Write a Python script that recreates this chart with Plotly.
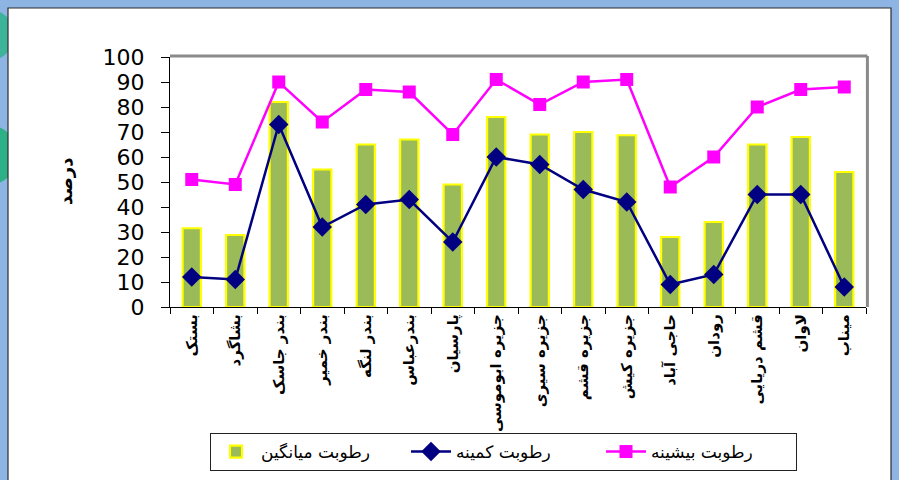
import plotly.graph_objects as go

# ---------------- data ----------------
stations = ["بستک", "بشاگرد", "بندر جاسک", "بندر خمیر", "بندر لنگه", "بندرعباس",
            "پارسیان", "جزیره ابوموسی", "جزیره سیری", "جزیره قشم", "جزیره کیش",
            "حاجی آباد", "رودان", "قشم دریایی", "لاوان", "میناب"]
humidity_mean = [31.5, 28.8, 82, 55, 65, 67, 49, 76, 69, 70, 68.7, 28, 34, 65, 68, 54]
humidity_min = [12, 11, 73, 32, 41, 43, 26, 60, 57, 47, 42, 9, 13, 45, 45, 8]
humidity_max = [51, 49, 90, 74, 87, 86, 69, 91, 81, 90, 91, 48, 60, 80, 87, 88]
y_ticks = [0, 10, 20, 30, 40, 50, 60, 70, 80, 90, 100]

name_mean = "رطوبت میانگین"
name_min = "رطوبت کمینه"
name_max = "رطوبت بیشینه"
y_title = "درصد"

# ---------------- layout helpers ----------------
W, H = 899, 480
ML, MR, MT, MB = 170, 33, 57, 173
PW = W - ML - MR
PH = H - MT - MB


def fx(px):
    return (px - ML) / PW


def fy(py):
    return (H - MB - py) / PH


fig = go.Figure()

fig.add_trace(go.Bar(
    x=stations, y=humidity_mean, name=name_mean,
    marker=dict(color="#9BBB59", line=dict(color="#FFFF00", width=2.2)),
))
fig.add_trace(go.Scatter(
    x=stations, y=humidity_min, name=name_min, mode="lines+markers",
    line=dict(color="#000080", width=2.5),
    marker=dict(symbol="diamond", size=15, color="#000080"),
))
fig.add_trace(go.Scatter(
    x=stations, y=humidity_max, name=name_max, mode="lines+markers",
    line=dict(color="#FF00FF", width=2.5),
    marker=dict(symbol="square", size=13, color="#FF00FF"),
))

shapes = []
teal = "#3DB39A"
# decorative teal blobs on left edge (behind white panel)
for cy, r, col in [(35, 26, teal), (155, 30, "#2DB086"), (300, 10, teal)]:
    shapes.append(dict(type="circle", xref="paper", yref="paper", layer="below",
                       x0=fx(-12 - r), x1=fx(-12 + r), y0=fy(cy + r), y1=fy(cy - r),
                       fillcolor=col, line=dict(width=0)))
# white panel
shapes.append(dict(type="rect", xref="paper", yref="paper", layer="below",
                   x0=fx(8), x1=fx(891), y0=fy(495), y1=fy(8),
                   fillcolor="white", line=dict(color="#2b2b2b", width=1.2)))
# plot-area gray frame on top and right
shapes.append(dict(type="line", xref="paper", yref="paper", layer="above",
                   x0=0, x1=1.002, y0=1.004, y1=1.004, line=dict(color="#8A8A8A", width=3)))
shapes.append(dict(type="line", xref="paper", yref="paper", layer="above",
                   x0=1.002, x1=1.002, y0=0, y1=1.004, line=dict(color="#8A8A8A", width=3)))

fig.update_layout(
    width=W, height=H,
    margin=dict(l=ML, r=MR, t=MT, b=MB, autoexpand=False),
    paper_bgcolor="#8DB4E2",
    plot_bgcolor="#E8D2A0",
    bargap=0.58,
    showlegend=True,
    shapes=shapes,
    legend=dict(
        orientation="h", x=fx(210), xanchor="left", y=fy(433), yanchor="top",
        bgcolor="white", bordercolor="#222222", borderwidth=1,
        font=dict(family="DejaVu Sans", size=17, color="black"),
        entrywidth=140, entrywidthmode="pixels",
        traceorder="normal", itemwidth=40,
    ),
    annotations=[dict(
        text=f"<b>{y_title}</b>", xref="paper", yref="paper",
        x=fx(65), y=0.5, xanchor="center", yanchor="middle",
        textangle=-90, showarrow=False,
        font=dict(family="DejaVu Sans", size=18, color="black"),
    )],
    xaxis=dict(
        type="category", showline=True, linecolor="black", linewidth=1.2,
        ticks="outside", tickson="boundaries", ticklen=6, tickcolor="black",
        tickangle=-90, showgrid=False, zeroline=False,
        tickfont=dict(family="DejaVu Sans", size=15, color="black", weight="bold"),
        range=[-0.5, len(stations) - 0.5],
    ),
    yaxis=dict(
        range=[0, 100], tickvals=y_ticks, showline=True, linecolor="black",
        linewidth=1.2, ticks="outside", ticklen=8, tickcolor="black",
        showgrid=False, zeroline=False, ticklabelstandoff=12,
        tickfont=dict(family="DejaVu Sans", size=22, color="black"),
    ),
)

fig.write_html("out.html", config={"displayModeBar": False},
               post_script="document.body.style.margin='0';")
